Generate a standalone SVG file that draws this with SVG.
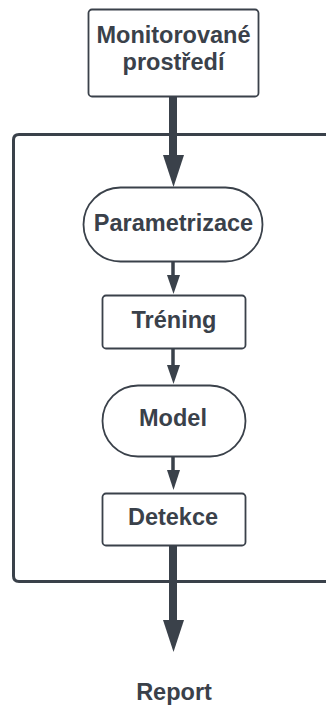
<svg xmlns="http://www.w3.org/2000/svg" width="326" height="706" viewBox="0 0 326 706">
<defs>
<style>
.box{fill:#ffffff;stroke:#3a414a;stroke-width:1.8}
.lbl{font-family:"Liberation Sans",Arial,sans-serif;font-weight:bold;font-size:23.5px;fill:#3a414a;text-anchor:middle}
.thin{stroke:#3a414a;stroke-width:3.5;fill:none}
.thick{stroke:#3a414a;stroke-width:8;fill:none}
.head{fill:#3a414a}
.frame{fill:none;stroke:#3a414a;stroke-width:3}
</style>
</defs>
<rect width="326" height="706" fill="#ffffff"/>
<g id="container">
<path class="frame" d="M330,134.5 H19 Q13.5,134.5 13.5,140 V576 Q13.5,581.5 19,581.5 H330"/>
</g>
<g id="connectors">
<line class="thick" x1="173" y1="97" x2="173" y2="156"/>
<polygon class="head" points="163,155 184,155 173.5,187"/>
<line class="thin" x1="173" y1="262" x2="173" y2="277"/>
<polygon class="head" points="167,275 180,275 173.5,294"/>
<line class="thin" x1="173" y1="349" x2="173" y2="367"/>
<polygon class="head" points="167,365 180,365 173.5,384"/>
<line class="thin" x1="173" y1="457" x2="173" y2="472"/>
<polygon class="head" points="167,470 180,470 173.5,490"/>
<line class="thick" x1="173" y1="546" x2="173" y2="621"/>
<polygon class="head" points="163,620 184,620 173.5,652"/>
</g>
<g id="monitorovane">
<rect class="box" x="88.5" y="9.5" width="170" height="87" rx="3.5"/>
<text class="lbl" x="173.5" y="42.5">Monitorované</text>
<text class="lbl" x="173.5" y="70">prostředí</text>
</g>
<g id="parametrizace">
<rect class="box" x="83.5" y="187.5" width="179" height="74" rx="37"/>
<text class="lbl" x="173.5" y="230.5">Parametrizace</text>
</g>
<g id="trening">
<rect class="box" x="102.5" y="295.5" width="143" height="53" rx="3.5"/>
<text class="lbl" x="174" y="327.5">Tréning</text>
</g>
<g id="model">
<rect class="box" x="102.5" y="385.5" width="143" height="71" rx="35.5"/>
<text class="lbl" x="173" y="425.5">Model</text>
</g>
<g id="detekce">
<rect class="box" x="102.5" y="493.5" width="143" height="52" rx="3.5"/>
<text class="lbl" x="173" y="524.5">Detekce</text>
</g>
<g id="report">
<text class="lbl" x="174" y="700">Report</text>
</g>
</svg>
